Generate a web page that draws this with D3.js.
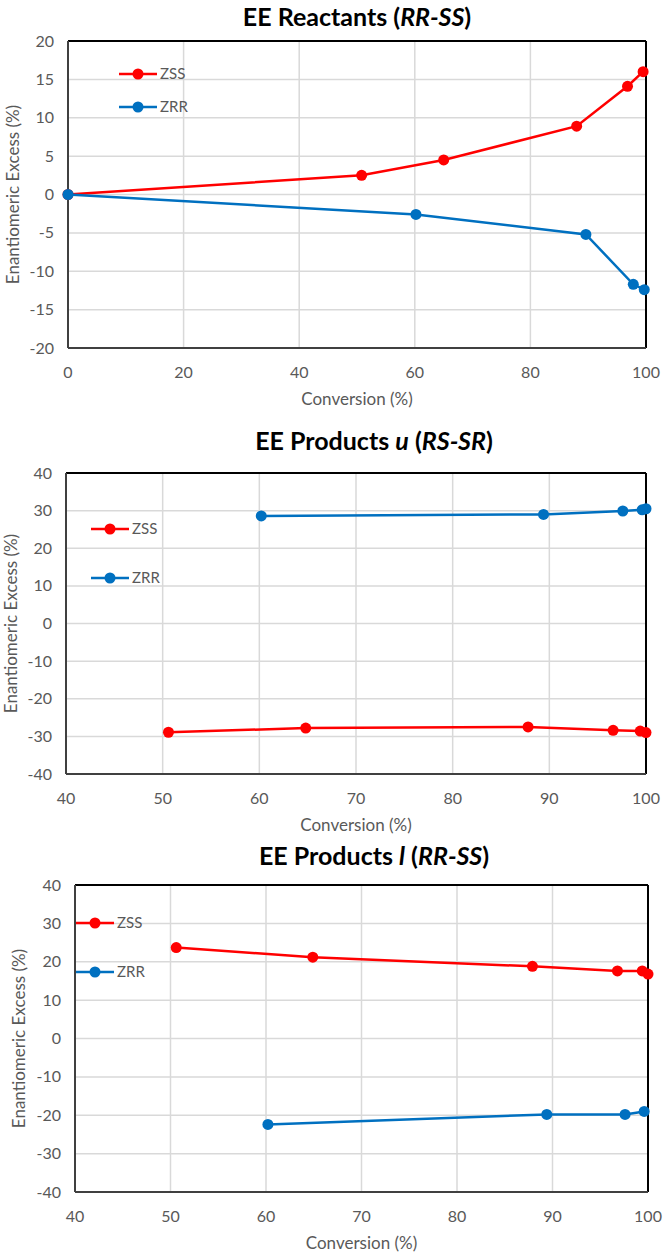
<!DOCTYPE html>
<html>
<head>
<meta charset="utf-8">
<script src="https://cdn.jsdelivr.net/npm/d3@7"></script>
<style>
  body { margin: 0; background: #fff; }
  .tick-label { font-family: Lato, "Open Sans", sans-serif; font-size: 16px; fill: #595959; }
  .axis-title { font-family: Lato, "Open Sans", sans-serif; font-size: 17px; fill: #595959; }
  .chart-title { font-family: Lato, "Open Sans", sans-serif; font-size: 25px; font-weight: bold; fill: #000; }
  .legend-text { font-family: Lato, "Open Sans", sans-serif; font-size: 15px; fill: #595959; }
</style>
</head>
<body>
<div id="chart"></div>
<script>
const RED = "#ff0000";
const BLUE = "#0070c0";

// Panel 1: EE Reactants (RR-SS)
const reactZssConv = [0, 50.8, 65.0, 88.0, 96.8, 99.5];
const reactZssEE   = [0, 2.5, 4.5, 8.9, 14.1, 16.0];
const reactZrrConv = [0, 60.2, 89.6, 97.8, 99.7];
const reactZrrEE   = [0, -2.6, -5.2, -11.7, -12.4];
const reactXTicks = [0, 20, 40, 60, 80, 100];
const reactYTicks = [-20, -15, -10, -5, 0, 5, 10, 15, 20];

// Panel 2: EE Products u (RS-SR)
const uZssConv = [50.6, 64.8, 87.8, 96.6, 99.4, 100];
const uZssEE   = [-28.9, -27.8, -27.5, -28.4, -28.6, -29.0];
const uZrrConv = [60.2, 89.4, 97.6, 99.6, 100];
const uZrrEE   = [28.6, 29.0, 29.9, 30.2, 30.5];

// Panel 3: EE Products l (RR-SS)
const lZssConv = [50.6, 64.9, 87.9, 96.8, 99.4, 100];
const lZssEE   = [23.7, 21.2, 18.8, 17.6, 17.6, 16.8];
const lZrrConv = [60.2, 89.4, 97.6, 99.6];
const lZrrEE   = [-22.4, -19.8, -19.8, -19.0];

const prodXTicks = [40, 50, 60, 70, 80, 90, 100];
const prodYTicks = [-40, -30, -20, -10, 0, 10, 20, 30, 40];

const svg = d3.select("#chart").append("svg")
  .attr("width", 664).attr("height", 1257);

function zip(xs, ys) { return xs.map((x, i) => ({ x: x, y: ys[i] })); }

function drawPanel(p) {
  const g = svg.append("g");
  const x = d3.scaleLinear().domain(p.xDomain).range([p.left, p.right]);
  const y = d3.scaleLinear().domain(p.yDomain).range([p.bottom, p.top]);

  // title
  const t = g.append("text").attr("class", "chart-title")
    .attr("x", p.titleX).attr("y", p.titleY).attr("text-anchor", "middle");
  p.title.forEach(part => {
    t.append("tspan").attr("font-style", part.italic ? "italic" : "normal").text(part.s);
  });

  // gridlines
  g.selectAll(".hgrid").data(p.yTicks).enter().append("line")
    .attr("x1", p.left).attr("x2", p.right)
    .attr("y1", d => y(d)).attr("y2", d => y(d))
    .attr("stroke", "#d9d9d9").attr("stroke-width", 1.5);
  g.selectAll(".vgrid").data(p.xTicks).enter().append("line")
    .attr("y1", p.top).attr("y2", p.bottom)
    .attr("x1", d => x(d)).attr("x2", d => x(d))
    .attr("stroke", "#d9d9d9").attr("stroke-width", 1.5);

  // frame
  g.append("line").attr("x1", p.left).attr("x2", p.right).attr("y1", p.top).attr("y2", p.top)
    .attr("stroke", "#000").attr("stroke-width", 2);
  g.append("line").attr("x1", p.right).attr("x2", p.right).attr("y1", p.top).attr("y2", p.bottom)
    .attr("stroke", "#000").attr("stroke-width", 2);
  g.append("line").attr("x1", p.left).attr("x2", p.right).attr("y1", p.bottom).attr("y2", p.bottom)
    .attr("stroke", "#404040").attr("stroke-width", 2);
  g.append("line").attr("x1", p.left).attr("x2", p.left).attr("y1", p.top).attr("y2", p.bottom)
    .attr("stroke", "#404040").attr("stroke-width", 2);

  // tick labels
  g.selectAll(".ylab").data(p.yTicks).enter().append("text")
    .attr("class", "tick-label")
    .attr("x", p.left - 14).attr("y", d => y(d)).attr("dy", "0.35em")
    .attr("text-anchor", "end").text(d => d);
  g.selectAll(".xlab").data(p.xTicks).enter().append("text")
    .attr("class", "tick-label")
    .attr("x", d => x(d)).attr("y", p.bottom + 30)
    .attr("text-anchor", "middle").text(d => d);

  // axis titles
  g.append("text").attr("class", "axis-title")
    .attr("x", (p.left + p.right) / 2).attr("y", p.bottom + 57)
    .attr("text-anchor", "middle").text("Conversion (%)");
  g.append("text").attr("class", "axis-title")
    .attr("transform", `translate(${p.yTitleX},${(p.top + p.bottom) / 2}) rotate(-90)`)
    .attr("text-anchor", "middle").text("Enantiomeric Excess (%)");

  // series
  const line = d3.line().x(d => x(d.x)).y(d => y(d.y));
  p.series.forEach(s => {
    const pts = zip(s.xs, s.ys);
    g.append("path").datum(pts)
      .attr("d", line).attr("fill", "none")
      .attr("stroke", s.color).attr("stroke-width", 2.5);
    g.selectAll(null).data(pts).enter().append("circle")
      .attr("cx", d => x(d.x)).attr("cy", d => y(d.y)).attr("r", 5.5)
      .attr("fill", s.color);
  });

  // legend
  p.series.forEach((s, i) => {
    const ly = p.legendY[i];
    g.append("line").attr("x1", p.legendX).attr("x2", p.legendX + 38)
      .attr("y1", ly).attr("y2", ly).attr("stroke", s.color).attr("stroke-width", 2.5);
    g.append("circle").attr("cx", p.legendX + 19).attr("cy", ly).attr("r", 5.5).attr("fill", s.color);
    g.append("text").attr("class", "legend-text")
      .attr("x", p.legendX + 41).attr("y", ly).attr("dy", "0.35em").text(s.name);
  });
}

drawPanel({
  title: [{ s: "EE Reactants (" }, { s: "RR-SS", italic: true }, { s: ")" }],
  titleX: 357, titleY: 26,
  left: 68, right: 646, top: 41, bottom: 348,
  xDomain: [0, 100], yDomain: [-20, 20],
  xTicks: reactXTicks, yTicks: reactYTicks,
  yTitleX: 19,
  legendX: 119, legendY: [74, 107],
  series: [
    { name: "ZSS", color: RED, xs: reactZssConv, ys: reactZssEE },
    { name: "ZRR", color: BLUE, xs: reactZrrConv, ys: reactZrrEE }
  ]
});

drawPanel({
  title: [{ s: "EE Products " }, { s: "u", italic: true }, { s: " (" }, { s: "RS-SR", italic: true }, { s: ")" }],
  titleX: 374, titleY: 450,
  left: 66, right: 646, top: 473, bottom: 774,
  xDomain: [40, 100], yDomain: [-40, 40],
  xTicks: prodXTicks, yTicks: prodYTicks,
  yTitleX: 17,
  legendX: 91, legendY: [529, 578],
  series: [
    { name: "ZSS", color: RED, xs: uZssConv, ys: uZssEE },
    { name: "ZRR", color: BLUE, xs: uZrrConv, ys: uZrrEE }
  ]
});

drawPanel({
  title: [{ s: "EE Products " }, { s: "l", italic: true }, { s: " (" }, { s: "RR-SS", italic: true }, { s: ")" }],
  titleX: 374, titleY: 865,
  left: 75, right: 648, top: 885, bottom: 1192,
  xDomain: [40, 100], yDomain: [-40, 40],
  xTicks: prodXTicks, yTicks: prodYTicks,
  yTitleX: 25,
  legendX: 76, legendY: [923, 972],
  series: [
    { name: "ZSS", color: RED, xs: lZssConv, ys: lZssEE },
    { name: "ZRR", color: BLUE, xs: lZrrConv, ys: lZrrEE }
  ]
});
</script>
</body>
</html>
